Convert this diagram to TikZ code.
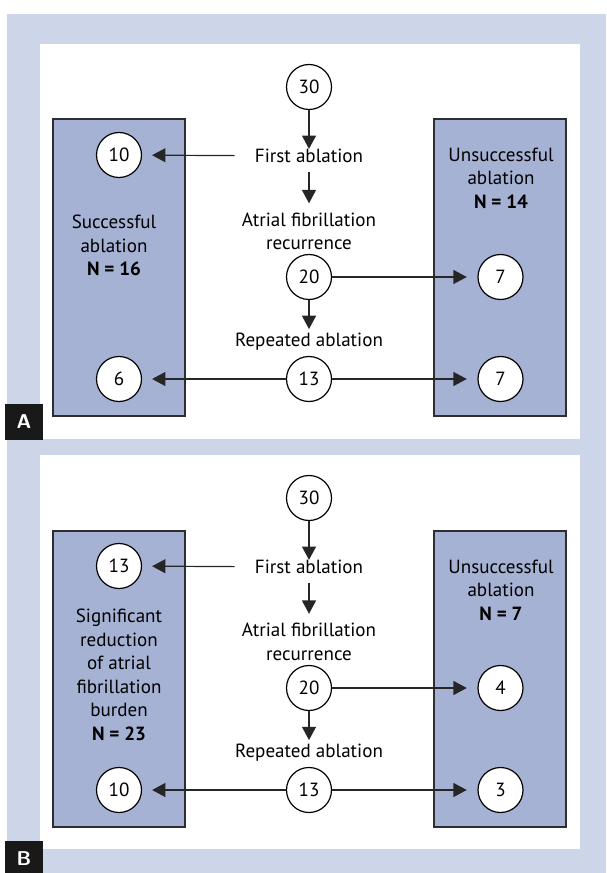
\documentclass[tikz,border=0pt]{standalone}
\usepackage{fontspec}
\setmainfont{PT Sans}
\usetikzlibrary{arrows.meta}

\definecolor{paneledge}{RGB}{205,213,232}
\definecolor{groupfill}{RGB}{165,178,212}
\definecolor{groupline}{RGB}{45,45,50}

\tikzset{
  count/.style={shape=circle, draw=black, fill=white, line width=0.9pt,
    minimum size=33.75pt, inner sep=0pt, font=\fontsize{14.3}{16}\selectfont},
  step text/.style={align=center, inner sep=0pt, font=\fontsize{14.3}{17.6}\selectfont},
  flow/.style={-{Triangle[length=10pt,width=10.5pt]}, line width=0.9pt, draw=black!85},
  group/.style={draw=groupline, fill=groupfill, line width=0.9pt},
  tag/.style={fill=black!90, text=white, inner sep=0pt, minimum width=28.5pt,
    minimum height=27pt, font=\sffamily\bfseries\fontsize{15}{15}\selectfont},
}

\begin{document}
\begin{tikzpicture}[x=0.75pt, y=-0.75pt]
    \useasboundingbox (0,0) rectangle (606,873);
    % frame and panels
    \fill[paneledge] (7,14) rectangle (606,873);
    \fill[white] (40,44) rectangle (580,439);
    \fill[white] (40,455) rectangle (580,849);

    % --- panel A ---
    \draw[group] (53,119) rectangle (185,416);
    \draw[group] (434,119) rectangle (566,416);
    \node[count] (topA) at (309,87) {30};
    \node[step text] (firstA) at (309,156) {First ablation};
    \node[step text] (recurA) at (309,231.5) {Atrial fibrillation\\recurrence};
    \node[count] (midA) at (309,277) {20};
    \node[step text] (repA) at (309,342) {Repeated ablation};
    \node[count] (lowA) at (309,379) {13};
    \node[count] (okA) at (119,155) {10};
    \node[count] (okrepA) at (119,379) {6};
    \node[count] (failA) at (500.5,277) {7};
    \node[count] (failrepA) at (500.5,379) {7};
    \node[step text] (okgrpA) at (114,245.5) {Successful\\ablation\\\textbf{N = 16}};
    \node[step text] (failgrpA) at (501,178) {Unsuccessful\\ablation\\\textbf{N = 14}};
    \draw[flow] (topA) -- (firstA);
    \draw[flow, shorten <=7pt, shorten >=7pt] (firstA) -- (recurA);
    \draw[flow, shorten >=3pt] (midA) -- (repA);
    \draw[flow, shorten <=15pt, shorten >=7.5pt] (firstA) -- (okA);
    \draw[flow, shorten >=8pt] (midA) -- (failA);
    \draw[flow, shorten >=7.5pt] (lowA) -- (okrepA);
    \draw[flow, shorten >=8pt] (lowA) -- (failrepA);
    \node[tag] (tagA) at (24,421.5) {A};

    % --- panel B ---
    \draw[group] (53,531) rectangle (185,827);
    \draw[group] (434,531) rectangle (566,827);
    \node[count] (topB) at (309,498) {30};
    \node[step text] (firstB) at (309,567) {First ablation};
    \node[step text] (recurB) at (309,642) {Atrial fibrillation\\recurrence};
    \node[count] (midB) at (309,688) {20};
    \node[step text] (repB) at (309,753) {Repeated ablation};
    \node[count] (lowB) at (309,790) {13};
    \node[count] (okB) at (119,566) {13};
    \node[count] (okrepB) at (119,790) {10};
    \node[count] (failB) at (500.5,688) {4};
    \node[count] (failrepB) at (500.5,790) {3};
    \node[step text] (okgrpB) at (119,675) {Significant\\reduction\\of atrial\\fibrillation\\burden\\\textbf{N = 23}};
    \node[step text] (failgrpB) at (501,590) {Unsuccessful\\ablation\\\textbf{N = 7}};
    \draw[flow] (topB) -- (firstB);
    \draw[flow, shorten <=7pt, shorten >=7pt] (firstB) -- (recurB);
    \draw[flow, shorten >=3pt] (midB) -- (repB);
    \draw[flow, shorten <=15pt, shorten >=7.5pt] (firstB) -- (okB);
    \draw[flow, shorten >=8pt] (midB) -- (failB);
    \draw[flow, shorten >=7.5pt] (lowB) -- (okrepB);
    \draw[flow, shorten >=8pt] (lowB) -- (failrepB);
    \node[tag] (tagB) at (24,858.5) {B};
\end{tikzpicture}
\end{document}
